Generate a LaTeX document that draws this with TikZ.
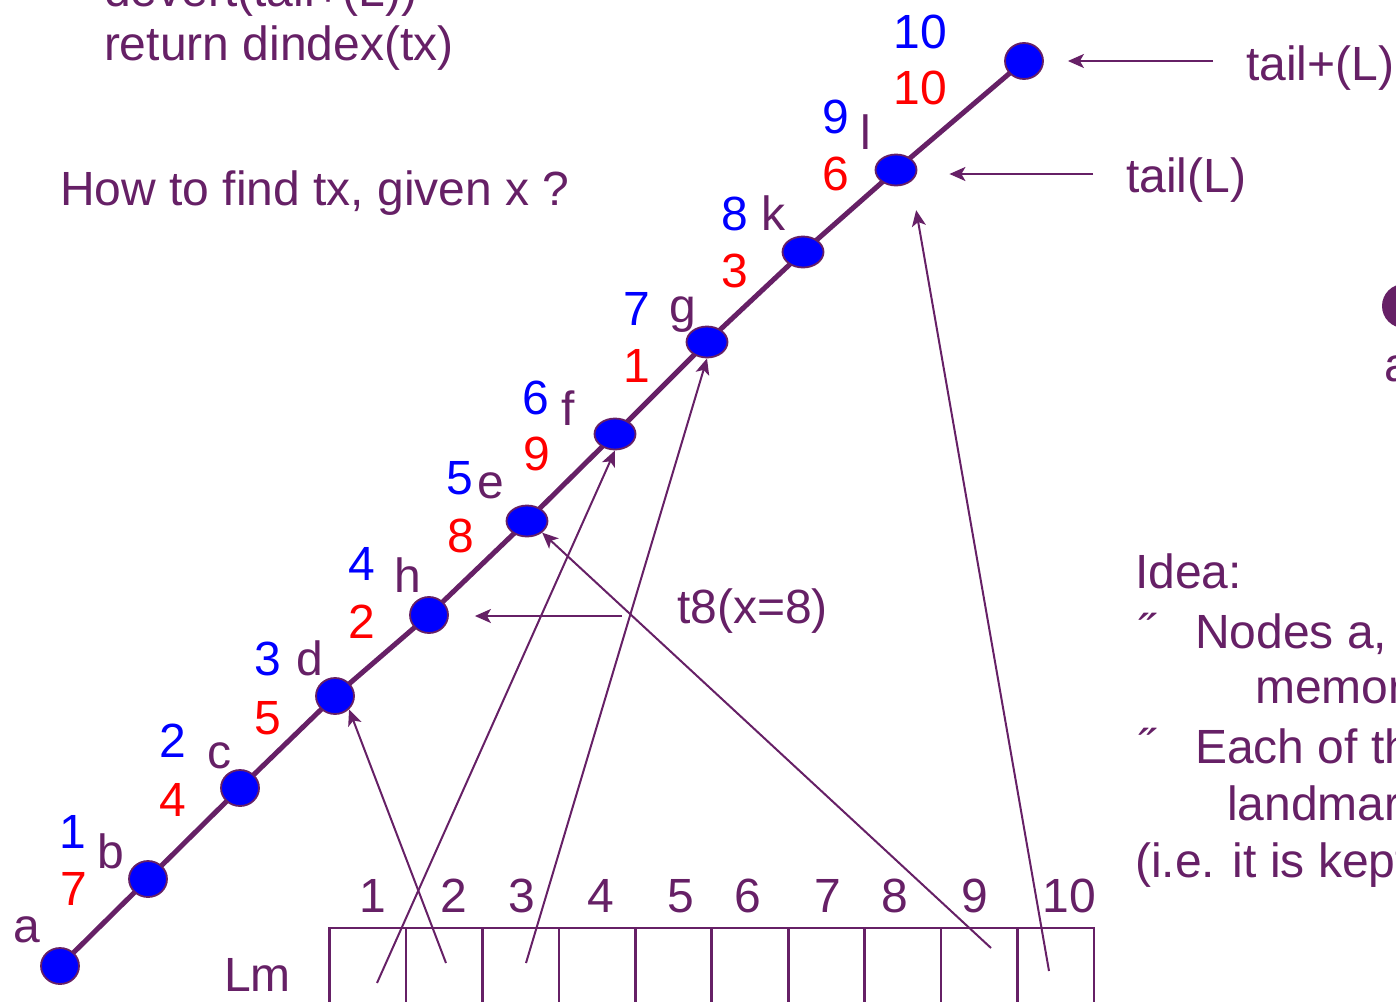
\documentclass[tikz,border=0pt]{standalone}
\usepackage{fontspec}
\setmainfont{Liberation Sans}
\usetikzlibrary{arrows.meta,shapes.geometric,backgrounds}
\definecolor{pur}{RGB}{102,32,102}
\definecolor{nblue}{RGB}{0,0,255}
\definecolor{nred}{RGB}{255,0,0}
\tikzset{
  txt/.style={text=pur, font=\fontsize{48}{56}\selectfont, inner sep=0pt, outer sep=0pt},
  lbl/.style={txt, anchor=base},
  lft/.style={txt, anchor=base west},
  bnum/.style={lbl, text=nblue},
  rnum/.style={lbl, text=nred},
  cdot/.style={ellipse, draw=pur, line width=1.8pt, fill=nblue, inner sep=0pt, minimum width=38pt, minimum height=36pt},
  edot/.style={cdot, minimum width=41pt, minimum height=31pt},
  spine/.style={draw=pur, line width=5pt},
  arr/.style={draw=pur, line width=2pt, -{Stealth[length=16pt,width=14pt,inset=4pt]}},
  cell/.style={rectangle, draw=pur, line width=2.6pt, minimum width=76.45pt, minimum height=90pt, inner sep=0pt},
}
\begin{document}
\begin{tikzpicture}[x=1pt,y=-1pt]
\useasboundingbox (0,0) rectangle (1396,1001);
\clip (0,0) rectangle (1396,1001);
% texts
\node[lft] (ln0) at (104,6) {devert(tail+(L))};
\node[lft] (ln1) at (104,60) {return dindex(tx)};
\node[lft] (quest) at (60,205) {How to find tx, given x ?};
\node[lft] (tailp) at (1246,80) {tail+(L)};
\node[lft] (tail) at (1126,192) {tail(L)};
\node[lft] (t8) at (677,623) {t8(x=8)};
\node[lft] (lm) at (224,991) {Lm};
\node[lft] (idea) at (1135,588) {Idea:};
\node[lft] (bu1) at (1138,648) {˝};
\node[lft] (id1) at (1195,648) {Nodes a,};
\node[lft] (id2) at (1255,703) {memory};
\node[lft] (bu2) at (1138,763) {˝};
\node[lft] (id3) at (1195,763) {Each of the};
\node[lft] (id4) at (1227,820) {landmark};
\node[lft] (id5) at (1135,877) {(i.e. it is kept};
\node[circle, fill=pur, inner sep=0pt, minimum size=44pt] (rdot) at (1404,306) {};
\node[lbl] (rlbl) at (1398,381) {a};
% letters
\node[lbl] (la) at (27,942) {a};
\node[lbl] (lb) at (111,868) {b};
\node[lbl] (lc) at (219,768) {c};
\node[lbl] (ld) at (310,675) {d};
\node[lbl] (lh) at (408,592) {h};
\node[lbl] (le) at (491,498) {e};
\node[lbl] (lf) at (568,425) {f};
\node[lbl] (lg) at (683,322) {g};
\node[lbl] (lk) at (773,230) {k};
\node[lbl] (ll) at (866,149) {l};
% blue numbers
\node[bnum] (b1) at (73,848) {1};
\node[bnum] (b2) at (173,757) {2};
\node[bnum] (b3) at (268,675) {3};
\node[bnum] (b4) at (362,580) {4};
\node[bnum] (b5) at (460,494) {5};
\node[bnum] (b6) at (536,414) {6};
\node[bnum] (b7) at (637,325) {7};
\node[bnum] (b8) at (735,230) {8};
\node[bnum] (b9) at (836,133) {9};
\node[bnum] (b10) at (920,48) {10};
% red numbers
\node[rnum] (r1) at (74,905) {7};
\node[rnum] (r2) at (173,816) {4};
\node[rnum] (r3) at (268,734) {5};
\node[rnum] (r4) at (362,638) {2};
\node[rnum] (r5) at (461,552) {8};
\node[rnum] (r6) at (537,470) {9};
\node[rnum] (r7) at (637,382) {1};
\node[rnum] (r8) at (735,287) {3};
\node[rnum] (r9) at (836,190) {6};
\node[rnum] (r10) at (920,104) {10};
% list nodes
\node[cdot] (a) at (60,966) {};
\node[cdot] (b) at (148,879) {};
\node[cdot] (c) at (240,788) {};
\node[cdot] (d) at (335,696) {};
\node[cdot] (h) at (429,615) {};
\node[edot] (e) at (527,521) {};
\node[edot] (f) at (615,434) {};
\node[edot] (g) at (707,342) {};
\node[edot] (k) at (803,252) {};
\node[edot] (l) at (896,170) {};
\node[cdot] (top) at (1024,61) {};
\begin{scope}[on background layer]
\draw[spine] (a.center) -- (b.center) -- (c.center) -- (d.center) -- (h.center) -- (e.center) -- (f.center) -- (g.center) -- (k.center) -- (l.center) -- (top.center);
\end{scope}
% array Lm
\foreach \i in {1,...,10} {
  \node[cell] (m\i) at ({329.5+76.45*(\i-0.5)},973) {};
}
\foreach \n/\x in {1/373,2/454,3/522,4/601,5/681,6/748,7/828,8/895,9/975,10/1069} {
  \node[lbl] (n\n) at (\x,912) {\n};
}
% arrows from array
\coordinate (s1) at (377,983);
\coordinate (s2) at (446,963);
\coordinate (s3) at (526,963);
\coordinate (s4) at (991,948);
\coordinate (s5) at (1049,971);
\draw[arr] (s1) -- (f.south);
\draw[arr] (s2) -- (d.south east);
\draw[arr] (s3) -- (g.south);
\draw[arr] (s4) -- (e.south east);
\draw[arr, shorten >=29pt] (s5) -- (l.south east);
% horizontal pointers
\coordinate (p0) at (1213,61);
\coordinate (q0) at (1093,174);
\coordinate (t0) at (622,616);
\draw[arr] (p0) -- ([xshift=24pt]top.east);
\draw[arr] (q0) -- ([xshift=32pt,yshift=-4pt]l.east);
\draw[arr] (t0) -- ([xshift=26pt,yshift=-1pt]h.east);
\end{tikzpicture}
\end{document}
